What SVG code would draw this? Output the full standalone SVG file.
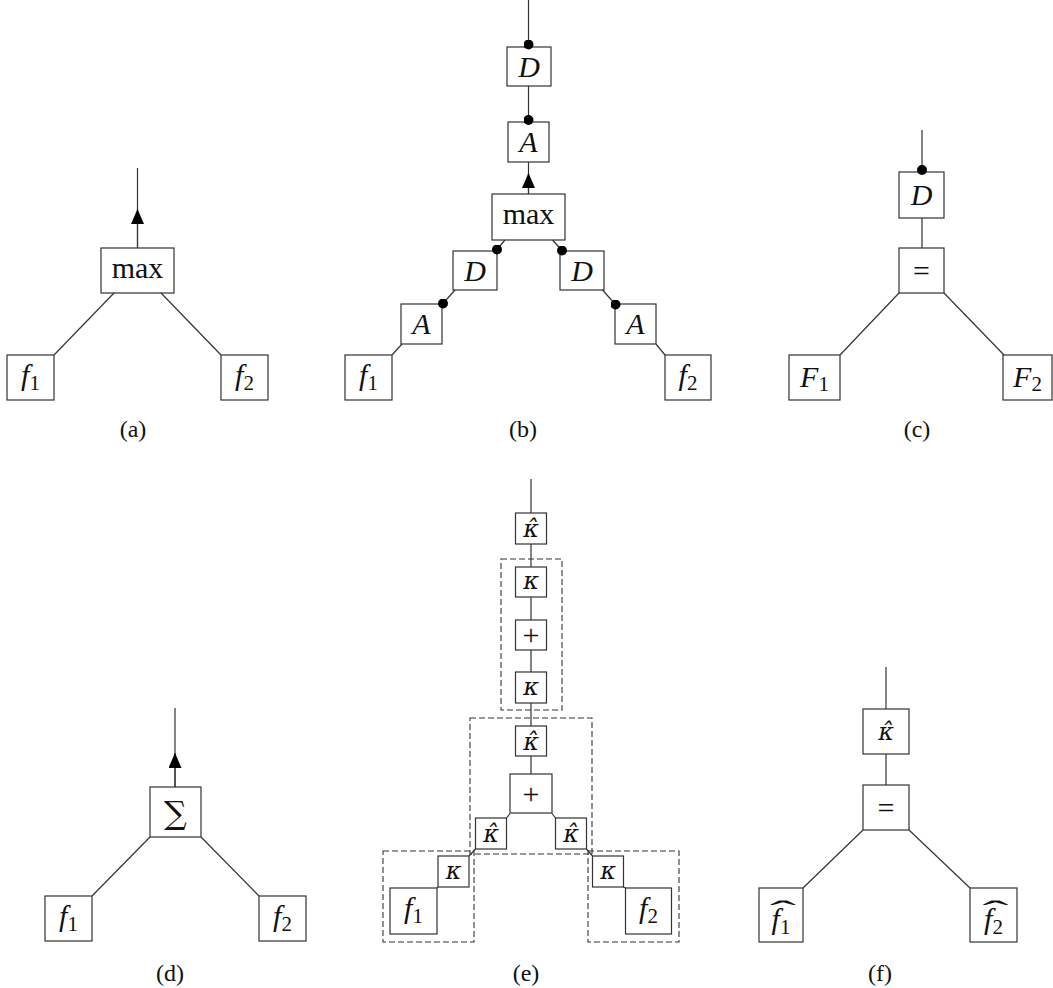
<svg xmlns="http://www.w3.org/2000/svg" width="1053" height="988" viewBox="0 0 1053 988">
<style>
.n rect{fill:#fff;stroke:#333;stroke-width:1.2}
.c line{stroke:#333;stroke-width:1.2}
.dash{fill:none;stroke:#333;stroke-width:1.1;stroke-dasharray:6 3}
text{font-family:"Liberation Serif","DejaVu Serif",serif;fill:#111;text-anchor:middle}
.i{font-style:italic}
.cap{font-size:24px}
.m{font-size:30px}
.k{font-size:24px;font-style:italic;font-family:"DejaVu Serif",serif}
.hat{font-style:normal}
.sub{font-size:21px;font-style:normal}
</style>
<defs>
<marker id="arr" markerUnits="userSpaceOnUse" viewBox="0 0 15 13" refX="15" refY="6.5" markerWidth="15" markerHeight="13" orient="auto"><path d="M0,0 L15,6.5 L0,13 z" fill="#000"/></marker>
<marker id="dot" markerUnits="userSpaceOnUse" viewBox="0 0 10 10" refX="5" refY="5" markerWidth="10" markerHeight="10"><circle cx="5" cy="5" r="5" fill="#000"/></marker>
</defs>

<g id="e-groups">
<rect class="dash" x="501" y="559" width="61" height="151"/>
<rect class="dash" x="470" y="718" width="122" height="136"/>
<rect class="dash" x="383" y="851" width="91" height="91"/>
<rect class="dash" x="588" y="851" width="91" height="91"/>
</g>

<!-- (a) -->
<g id="a-max" class="n"><rect x="101" y="248" width="73" height="45"/><text class="m" x="137.5" y="277.5">max</text></g>
<g id="a-f1" class="n"><rect x="7" y="355" width="47" height="45"/><text class="m" x="30.5" y="385"><tspan class="i">f</tspan><tspan class="sub" dy="5">1</tspan></text></g>
<g id="a-f2" class="n"><rect x="221" y="355" width="47" height="45"/><text class="m" x="244.5" y="385"><tspan class="i">f</tspan><tspan class="sub" dy="5">2</tspan></text></g>
<text class="cap" x="133" y="437">(a)</text>

<!-- (b) -->
<g id="b-D" class="n"><rect x="507" y="47" width="44" height="39"/><text class="m i" x="529" y="76.5">D</text></g>
<g id="b-A" class="n"><rect x="508" y="122" width="41" height="40"/><text class="m i" x="528.5" y="152">A</text></g>
<g id="b-max" class="n"><rect x="492" y="194" width="73" height="46"/><text class="m" x="528.5" y="224">max</text></g>
<g id="b-D1" class="n"><rect x="453" y="251" width="44" height="39"/><text class="m i" x="475" y="280.5">D</text></g>
<g id="b-A1" class="n"><rect x="401" y="304" width="41" height="40"/><text class="m i" x="421.5" y="334">A</text></g>
<g id="b-f1" class="n"><rect x="345" y="355" width="47" height="45"/><text class="m" x="368.5" y="385"><tspan class="i">f</tspan><tspan class="sub" dy="5">1</tspan></text></g>
<g id="b-D2" class="n"><rect x="560" y="251" width="44" height="39"/><text class="m i" x="582" y="280.5">D</text></g>
<g id="b-A2" class="n"><rect x="615" y="304" width="41" height="40"/><text class="m i" x="635.5" y="334">A</text></g>
<g id="b-f2" class="n"><rect x="665" y="355" width="46" height="45"/><text class="m" x="688" y="385"><tspan class="i">f</tspan><tspan class="sub" dy="5">2</tspan></text></g>
<text class="cap" x="523" y="437">(b)</text>

<!-- (c) -->
<g id="c-D" class="n"><rect x="899" y="172" width="45" height="46"/><text class="m i" x="921.5" y="205">D</text></g>
<g id="c-eq" class="n"><rect x="899" y="248" width="45" height="45"/><text class="m" x="921.5" y="281" font-size="34">=</text></g>
<g id="c-F1" class="n"><rect x="789" y="355" width="51" height="45"/><text class="m" x="814.5" y="387"><tspan class="i">F</tspan><tspan class="sub" dy="4">1</tspan></text></g>
<g id="c-F2" class="n"><rect x="1003" y="355" width="49" height="45"/><text class="m" x="1027.5" y="387"><tspan class="i">F</tspan><tspan class="sub" dy="4">2</tspan></text></g>
<text class="cap" x="917" y="437">(c)</text>

<!-- (d) -->
<g id="d-sum" class="n"><rect x="150" y="787" width="51" height="50"/><text x="175.5" y="824" font-size="32" style="font-family:'DejaVu Serif',serif">∑</text></g>
<g id="d-f1" class="n"><rect x="45" y="896" width="47" height="45"/><text class="m" x="68.5" y="926"><tspan class="i">f</tspan><tspan class="sub" dy="5">1</tspan></text></g>
<g id="d-f2" class="n"><rect x="259" y="896" width="47" height="45"/><text class="m" x="282.5" y="926"><tspan class="i">f</tspan><tspan class="sub" dy="5">2</tspan></text></g>
<text class="cap" x="170" y="981">(d)</text>

<!-- (e) -->
<g id="e-kh0" class="n"><rect x="515.5" y="513" width="31" height="31"/><text class="k" x="531" y="537">κ̂</text></g>
<g id="e-k1" class="n"><rect x="515.5" y="567" width="31" height="30"/><text class="k" x="531" y="589">κ</text></g>
<g id="e-p1" class="n"><rect x="515.5" y="620" width="31" height="30"/><text class="m" x="531" y="645">+</text></g>
<g id="e-k2" class="n"><rect x="515.5" y="672" width="31" height="31"/><text class="k" x="531" y="694.5">κ</text></g>
<g id="e-kh1" class="n"><rect x="515.5" y="726" width="31" height="30"/><text class="k" x="531" y="749.5">κ̂</text></g>
<g id="e-p2" class="n"><rect x="510" y="774" width="42" height="39"/><text class="m" x="531" y="804" font-size="32">+</text></g>
<g id="e-khL" class="n"><rect x="475.5" y="818" width="31" height="31"/><text class="k" x="491" y="842">κ̂</text></g>
<g id="e-khR" class="n"><rect x="555.5" y="818" width="31" height="31"/><text class="k" x="571" y="842">κ̂</text></g>
<g id="e-kL" class="n"><rect x="438" y="856" width="31" height="31"/><text class="k" x="453.5" y="878.5">κ</text></g>
<g id="e-f1" class="n"><rect x="390" y="888" width="47" height="46"/><text class="m" x="413.5" y="918"><tspan class="i">f</tspan><tspan class="sub" dy="5">1</tspan></text></g>
<g id="e-kR" class="n"><rect x="592.5" y="856" width="31" height="31"/><text class="k" x="608" y="878.5">κ</text></g>
<g id="e-f2" class="n"><rect x="625.5" y="888" width="46" height="46"/><text class="m" x="648.5" y="918"><tspan class="i">f</tspan><tspan class="sub" dy="5">2</tspan></text></g>
<text class="cap" x="526" y="981">(e)</text>

<!-- (f) -->
<g id="f-kh" class="n"><rect x="863" y="709" width="46" height="45"/><text class="k" x="886" y="740">κ̂</text></g>
<g id="f-eq" class="n"><rect x="863" y="785" width="46" height="45"/><text class="m" x="886" y="818" font-size="34">=</text></g>
<g id="f-fh1" class="n"><rect x="759" y="888" width="44" height="54"/><text class="m" x="781" y="929"><tspan class="i">f</tspan><tspan class="sub" dy="5">1</tspan></text><text class="m hat" transform="translate(783,921) scale(2.6,1)" x="0" y="0">ˆ</text></g>
<g id="f-fh2" class="n"><rect x="970" y="888" width="47" height="54"/><text class="m" x="993.5" y="929"><tspan class="i">f</tspan><tspan class="sub" dy="5">2</tspan></text><text class="m hat" transform="translate(995.5,921) scale(2.6,1)" x="0" y="0">ˆ</text></g>
<text class="cap" x="880" y="981">(f)</text>

<g id="connectors" class="c">
<!-- (a) -->
<line x1="137.5" y1="168" x2="137.5" y2="248"/>
<line x1="137.5" y1="248" x2="137.5" y2="209" marker-end="url(#arr)"/>
<line x1="114" y1="293" x2="54" y2="355"/>
<line x1="161" y1="293" x2="221" y2="355"/>
<!-- (b) -->
<line x1="528.5" y1="0" x2="528.5" y2="44.5" marker-end="url(#dot)"/>
<line x1="528.5" y1="86" x2="528.5" y2="120" marker-end="url(#dot)"/>
<line x1="528.5" y1="194" x2="528.5" y2="162"/>
<line x1="528.5" y1="194" x2="528.5" y2="173" marker-end="url(#arr)"/>
<line x1="505" y1="240" x2="497" y2="249.5" marker-end="url(#dot)"/>
<line x1="455" y1="290" x2="443" y2="303.5" marker-end="url(#dot)"/>
<line x1="402" y1="344" x2="392" y2="355"/>
<line x1="552.5" y1="240" x2="562" y2="250.5" marker-end="url(#dot)"/>
<line x1="602.5" y1="290" x2="615.5" y2="304.5" marker-end="url(#dot)"/>
<line x1="656" y1="344" x2="665" y2="355"/>
<!-- (c) -->
<line x1="922" y1="130" x2="922" y2="170" marker-end="url(#dot)"/>
<line x1="922" y1="218" x2="922" y2="248"/>
<line x1="899" y1="293" x2="840" y2="355"/>
<line x1="944" y1="293" x2="1004" y2="355"/>
<!-- (d) -->
<line x1="175" y1="708" x2="175" y2="787"/>
<line x1="175" y1="787" x2="175" y2="753" marker-end="url(#arr)"/>
<line x1="150" y1="837" x2="92" y2="896"/>
<line x1="201" y1="837" x2="259" y2="896"/>
<!-- (e) -->
<line x1="531" y1="479" x2="531" y2="513"/>
<line x1="531" y1="544" x2="531" y2="567"/>
<line x1="531" y1="597" x2="531" y2="620"/>
<line x1="531" y1="650" x2="531" y2="672"/>
<line x1="531" y1="703" x2="531" y2="726"/>
<line x1="531" y1="756" x2="531" y2="774"/>
<line x1="510" y1="813.5" x2="506.5" y2="818"/>
<line x1="552" y1="813.5" x2="555.5" y2="818"/>
<line x1="475.5" y1="849" x2="469" y2="856"/>
<line x1="586.5" y1="849" x2="592.5" y2="856"/>
<line x1="438" y1="887" x2="437" y2="888"/>
<line x1="623.5" y1="887" x2="625.5" y2="888"/>
<!-- (f) -->
<line x1="886" y1="667" x2="886" y2="709"/>
<line x1="886" y1="754" x2="886" y2="785"/>
<line x1="863" y1="830" x2="803" y2="888"/>
<line x1="909" y1="830" x2="970" y2="888"/>
</g>
</svg>
